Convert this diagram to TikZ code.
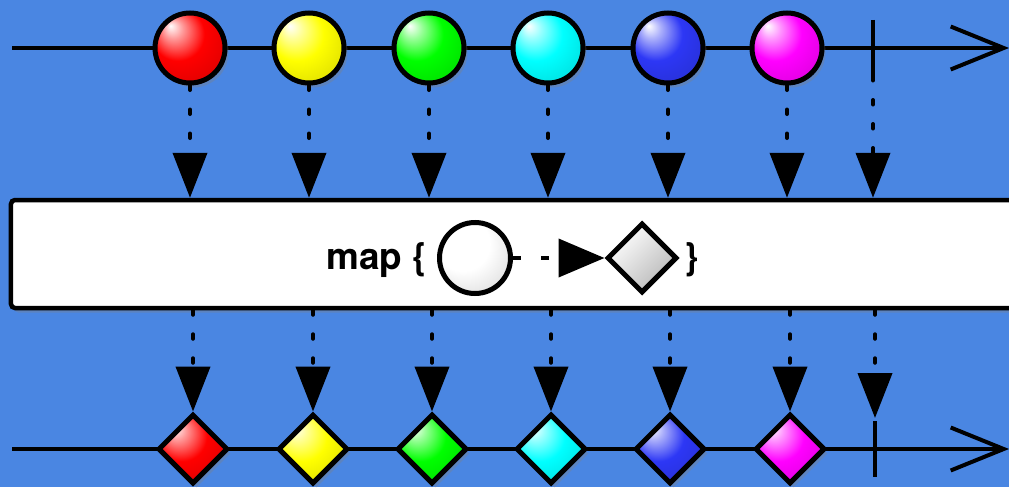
\documentclass[tikz,border=0pt]{standalone}
\usepackage{fontspec}
\setmainfont{TeX Gyre Heros}
\usetikzlibrary{arrows.meta}
\usetikzlibrary{shapes.geometric}
\usetikzlibrary{shadows}
\definecolor{marblebg}{RGB}{74,134,226}
\definecolor{mblue}{RGB}{45,55,245}
\colorlet{marbletint}{red}
\pgfdeclareradialshading[marbletint]{marbleshine}{\pgfpoint{-14bp}{16bp}}{%
  color(0bp)=(white); color(7bp)=(marbletint!40!white);
  color(19bp)=(marbletint); color(34bp)=(marbletint!88!black);
  color(50bp)=(marbletint!55!black)}

\begin{document}
\begin{tikzpicture}[x=0.2mm, y=-0.2mm,
    tint/.code={\colorlet{marbletint}{#1}},
    shine/.style={tint=#1, shading=marbleshine, shade},
    marble/.style={circle, draw=black, line width=1mm, minimum size=14mm, inner sep=0pt},
    gem/.style={diamond, draw=black, line width=1mm, minimum size=14mm, inner sep=0pt},
    lifted/.style={drop shadow={opacity=0.35, shadow xshift=0.7mm, shadow yshift=-0.9mm}},
    timeline/.style={line width=0.8mm, -{Straight Barb[length=10.6mm, width=8.6mm]}},
    flow/.style={line width=0.8mm, line cap=round, dash pattern=on 0.9mm off 3.9mm,
      -{Triangle[length=9mm, width=6.8mm]}},
    stopper/.style={line width=0.8mm},
    mapbox/.style={draw=black, fill=white, line width=0.9mm, rounded corners=0.8mm,
      minimum width=204mm, minimum height=21.6mm, inner sep=0pt, lifted},
    maplabel/.style={font=\fontsize{21}{25}\selectfont\bfseries, inner sep=0pt},
    mapflow/.style={line width=0.8mm, dash pattern=on 1.6mm off 4mm,
      -{Triangle[length=9.2mm, width=7.6mm]}},
  ]
  \useasboundingbox (0,0) rectangle (1009,487);
  \clip (0,0) rectangle (1009,487);
  \fill[marblebg] (0,0) rectangle (1009,487);

  % source and result timelines
  \coordinate (tin) at (12,48);
  \coordinate (tout) at (1009,48);
  \coordinate (bin) at (12,449);
  \coordinate (bout) at (1009,449);
  \draw[timeline] (tin) -- (tout);
  \draw[timeline] (bin) -- (bout);

  \node[mapbox] (box) at (521,254) {};

  \node[marble, lifted, shine=red] (tr) at (190,48) {};
  \node[marble, lifted, shine=yellow] (ty) at (309,48) {};
  \node[marble, lifted, shine=green] (tg) at (429,48) {};
  \node[marble, lifted, shine=cyan] (tc) at (548,48) {};
  \node[marble, lifted, shine=mblue] (tb) at (668,48) {};
  \node[marble, lifted, shine=magenta] (tm) at (787,48) {};
  \coordinate (tstop) at (873,48);
  \draw[stopper] ([yshift=5.6mm]tstop) -- ([yshift=-5.6mm]tstop);

  \node[gem, lifted, shine=red] (br) at (193,449) {};
  \node[gem, lifted, shine=yellow] (by) at (313,449) {};
  \node[gem, lifted, shine=green] (bg) at (432,449) {};
  \node[gem, lifted, shine=cyan] (bc) at (551,449) {};
  \node[gem, lifted, shine=mblue] (bb) at (670,449) {};
  \node[gem, lifted, shine=magenta] (bm) at (790,449) {};
  \coordinate (bstop) at (875,449);
  \draw[stopper] ([yshift=5.6mm]bstop) -- ([yshift=-5.6mm]bstop);

  \draw[flow] (tr.south) -- (tr.south |- box.north);
  \draw[flow] (ty.south) -- (ty.south |- box.north);
  \draw[flow] (tg.south) -- (tg.south |- box.north);
  \draw[flow] (tc.south) -- (tc.south |- box.north);
  \draw[flow] (tb.south) -- (tb.south |- box.north);
  \draw[flow] (tm.south) -- (tm.south |- box.north);
  \draw[flow] ([yshift=-5.6mm]tstop) -- (tstop |- box.north);

  \draw[flow] (box.south -| br.north) -- (br.north);
  \draw[flow] (box.south -| by.north) -- (by.north);
  \draw[flow] (box.south -| bg.north) -- (bg.north);
  \draw[flow] (box.south -| bc.north) -- (bc.north);
  \draw[flow] (box.south -| bb.north) -- (bb.north);
  \draw[flow] (box.south -| bm.north) -- (bm.north);
  \draw[flow] (box.south -| bstop) -- ([yshift=6.2mm]bstop);

  % the operator inside the box
  \node[maplabel, anchor=base west] (mapword) at (326,269) {map \{};
  \node[marble, shine=white, minimum size=14.2mm] (dom) at (475,258) {};
  \node[gem, top color=white, bottom color=black!28, shading angle=45] (img) at (642,258) {};
  \node[maplabel, anchor=base west] (rbrace) at (684,269) {\}};
  \draw[mapflow] (dom) -- (img);
\end{tikzpicture}
\end{document}
